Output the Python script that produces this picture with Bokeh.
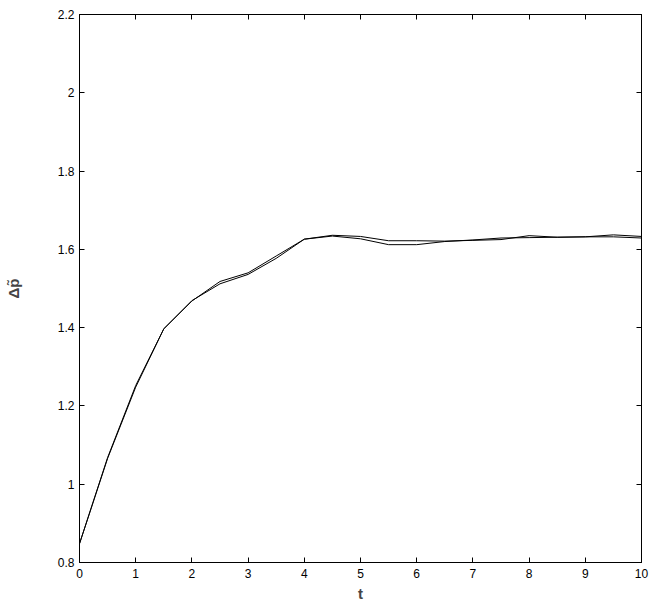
from bokeh.plotting import figure
from bokeh.models import LinearAxis, Range1d, FixedTicker
from bokeh.embed import file_html
from bokeh.resources import INLINE

t = [0.0, 0.5, 1.0, 1.5, 2.0, 2.5, 3.0, 3.5, 4.0, 4.5, 5.0, 5.5, 6.0, 6.5, 7.0, 7.5, 8.0, 8.5, 9.0, 9.5, 10.0]
dp_a = [0.848, 1.068, 1.252, 1.397, 1.469, 1.512, 1.536, 1.577, 1.626, 1.636, 1.633, 1.622, 1.622,
        1.621, 1.623, 1.625, 1.635, 1.631, 1.632, 1.637, 1.633]
dp_b = [0.848, 1.066, 1.248, 1.397, 1.468, 1.518, 1.540, 1.583, 1.626, 1.634, 1.627, 1.612, 1.612,
        1.620, 1.624, 1.629, 1.630, 1.631, 1.632, 1.632, 1.629]
x_ticks = [0, 1, 2, 3, 4, 5, 6, 7, 8, 9, 10]
y_ticks = [0.8, 1.0, 1.2, 1.4, 1.6, 1.8, 2.0, 2.2]
y_tick_labels = {0.8: "0.8", 1.0: "1", 1.2: "1.2", 1.4: "1.4", 1.6: "1.6", 1.8: "1.8", 2.0: "2", 2.2: "2.2"}

FONT = "Liberation Sans"

p = figure(frame_width=562, frame_height=548, output_backend="svg", toolbar_location=None,
           x_range=Range1d(0, 10), y_range=Range1d(0.8, 2.2),
           min_border_left=79, min_border_right=13, min_border_top=14, min_border_bottom=44)
p.xaxis.visible = False
p.yaxis.visible = False
p.grid.visible = False
p.outline_line_color = "black"
p.outline_line_width = 1
p.background_fill_color = "white"
p.border_fill_color = "white"

def style(ax, labels=True):
    ax.major_tick_in = 5
    ax.major_tick_out = 0
    ax.minor_tick_in = 0
    ax.minor_tick_out = 0
    ax.axis_line_color = "black"
    ax.major_tick_line_color = "black"
    ax.major_label_text_font = FONT
    ax.major_label_text_font_size = "12px" if labels else "0px"
    ax.major_label_text_color = "black" if labels else None
    ax.major_label_standoff = 6 if labels else 0

xb = LinearAxis(ticker=FixedTicker(ticks=x_ticks))
style(xb)
xb.axis_label = "t"
xb.axis_label_text_font = FONT
xb.axis_label_text_font_style = "bold"
xb.axis_label_text_font_size = "15px"
xb.axis_label_standoff = 4
p.add_layout(xb, "below")

yl = LinearAxis(ticker=FixedTicker(ticks=y_ticks))
style(yl)
yl.major_label_overrides = y_tick_labels
yl.major_label_standoff = 5
yl.axis_label = "\u0394p\u0303"
yl.axis_label_text_font = FONT
yl.axis_label_text_font_style = "bold"
yl.axis_label_text_font_size = "15px"
yl.axis_label_standoff = 33
p.add_layout(yl, "left")

xt = LinearAxis(ticker=FixedTicker(ticks=x_ticks))
style(xt, labels=False)
p.add_layout(xt, "above")

yr = LinearAxis(ticker=FixedTicker(ticks=y_ticks))
style(yr, labels=False)
p.add_layout(yr, "right")

p.line(t, dp_a, line_color="black", line_width=1)
p.line(t, dp_b, line_color="black", line_width=1)

open("out.html", "w").write(file_html(p, INLINE))
